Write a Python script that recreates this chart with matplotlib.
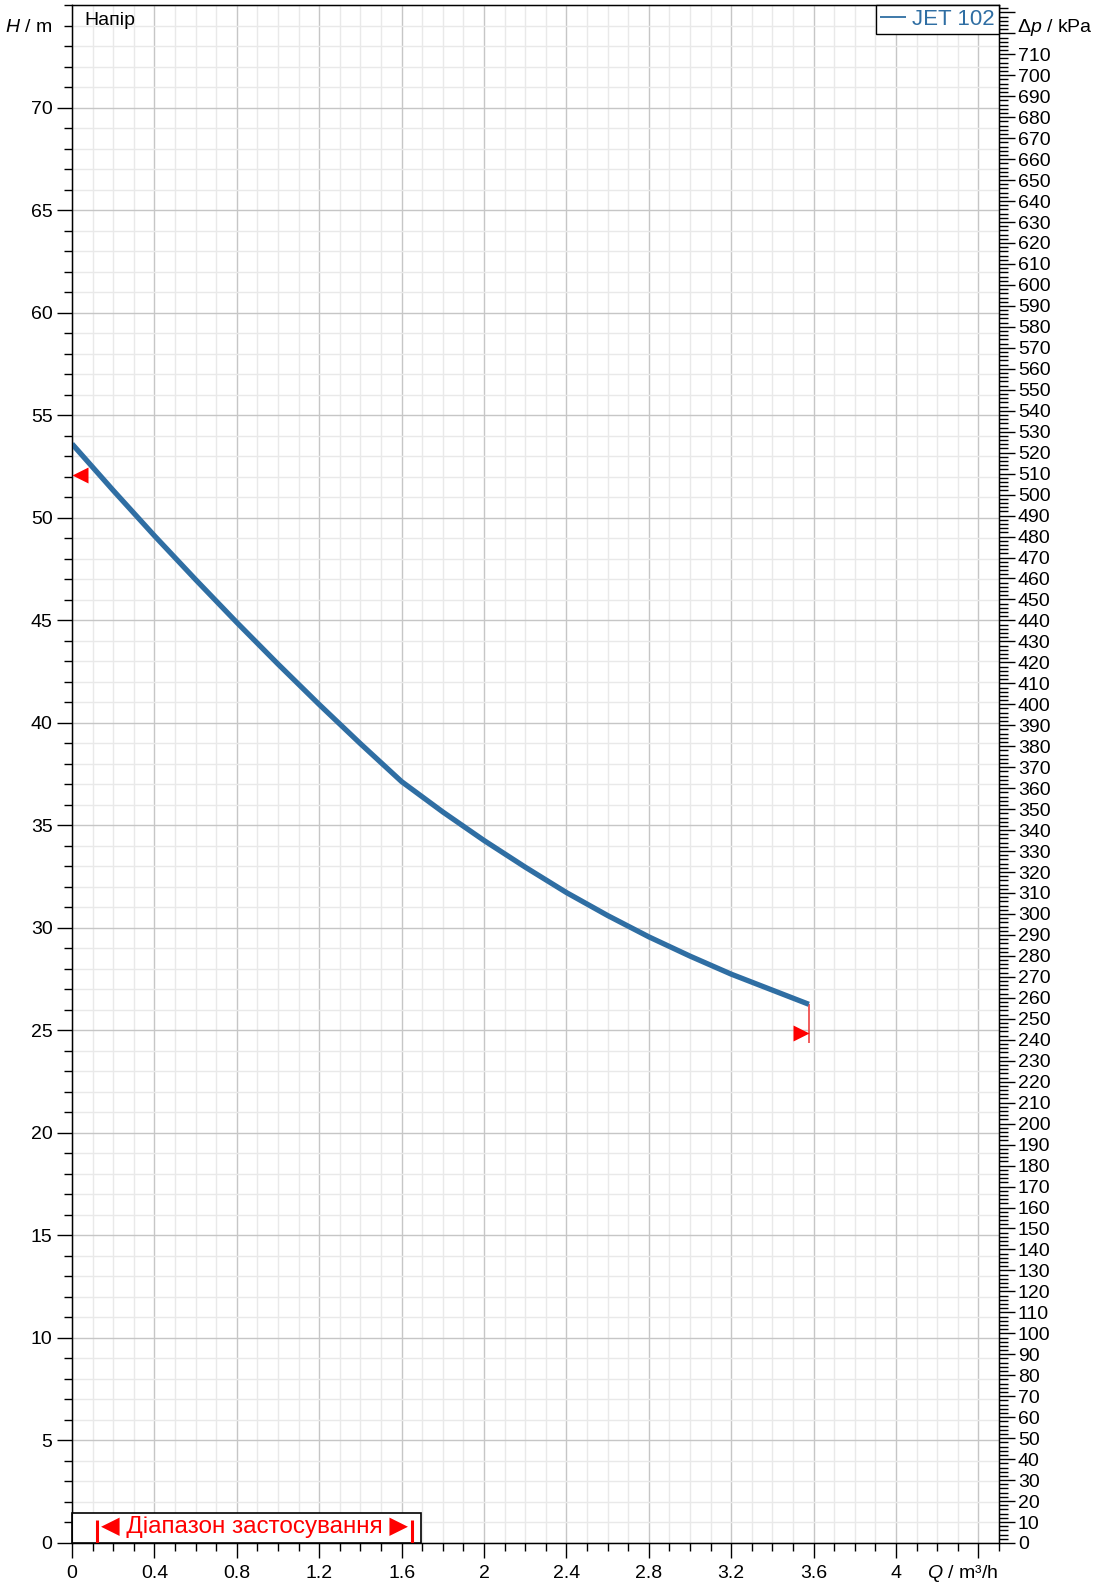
import numpy as np
import matplotlib.pyplot as plt
from matplotlib.ticker import MultipleLocator, FixedLocator
from matplotlib.patches import Rectangle
from matplotlib.transforms import offset_copy

plt.rcParams['font.family'] = ['Liberation Sans', 'DejaVu Sans']
plt.rcParams['mathtext.fontset'] = 'custom'
plt.rcParams['mathtext.rm'] = 'Liberation Sans'
plt.rcParams['mathtext.it'] = 'Liberation Sans:italic'

# pump curve JET 102
Q = [0, 0.2, 0.4, 0.6, 0.8, 1.0, 1.2, 1.4, 1.6, 1.8, 2.0,
     2.2, 2.4, 2.6, 2.8, 3.0, 3.2, 3.4, 3.577]
H = [53.6, 51.33, 49.12, 46.98, 44.89, 42.86, 40.89, 38.98, 37.13, 35.65, 34.26,
     32.96, 31.72, 30.6, 29.56, 28.62, 27.74, 26.96, 26.27]

# red limit markers
Q_left_mark = 0.0
H_left_mark = 52.1
Q_right_mark = 3.577
H_right_mark = 24.87
H_right_line_low = 24.4

# application range
range_lo = 0.12
range_hi = 1.65
range_box_end = 1.695
range_box_top = 1.46

kpa_per_m = 9.78
H_top = 75
Q_top = 4.5

blue = '#2f6ea3'
red = '#ff0000'

fig = plt.figure(figsize=(10.96, 15.89), dpi=100)
ax = fig.add_axes([0.0657, 0.02895, 0.8458, 0.9679])
ax.set_xlim(0, Q_top)
ax.set_ylim(0, H_top)

# grid
ax.xaxis.set_major_locator(FixedLocator(np.arange(0, 4.41, 0.4)))
ax.xaxis.set_minor_locator(MultipleLocator(0.1))
ax.yaxis.set_major_locator(FixedLocator(np.arange(0, 71, 5)))
ax.yaxis.set_minor_locator(MultipleLocator(1))
ax.set_axisbelow(True)
ax.grid(which='major', color='#c6c6c6', lw=1.0)
ax.grid(which='minor', color='#e9e9e9', lw=1.0)

xt = np.arange(0, 4.41, 0.4)
ax.set_xticklabels(["%g" % v if v < 4.1 else "" for v in np.round(xt, 1)])
ax.tick_params(axis='both', which='major', labelsize=14, length=11, width=1, direction='out')
ax.tick_params(axis='both', which='minor', length=6, width=1, direction='out')
ax.tick_params(axis='x', pad=5)
ax.tick_params(axis='y', pad=3)

# curve
line, = ax.plot(Q, H, color=blue, lw=3.8, solid_capstyle='butt', solid_joinstyle='round',
                label='JET 102', zorder=4)

# limit markers
ms = 11.5
tr_l = offset_copy(ax.transData, fig=fig, x=ms / 2, y=0, units='points')
ax.plot([Q_left_mark], [H_left_mark], marker='<', ms=ms, color=red, mec='none',
        transform=tr_l, zorder=5, clip_on=False)
tr_r = offset_copy(ax.transData, fig=fig, x=-ms / 2, y=0, units='points')
ax.plot([Q_right_mark], [H_right_mark], marker='>', ms=ms, color=red, mec='none',
        transform=tr_r, zorder=5)
ax.vlines(Q_right_mark, H_right_line_low, H[-1], color='#f05050', lw=1.3, zorder=3)

# application range box
ax.add_patch(Rectangle((0, 0), range_box_end, range_box_top, facecolor='white',
                       edgecolor='black', lw=1.2, zorder=6, clip_on=False))
ax.vlines([range_lo, range_hi], 0, 1.1, color=red, lw=2.2, zorder=7)
ax.text((range_lo + range_hi) / 2, 0.78, "◀ Діапазон застосування ▶", color=red,
        fontsize=17.5, ha='center', va='center', zorder=8)

# labels
ax.text(0.013, 0.9955, "Напір", transform=ax.transAxes, fontsize=14,
        ha='left', va='top')
fig.text(5 / 1096, 1 - 27 / 1589, "$H$ / m", fontsize=14, ha='left', va='center')
fig.text(998 / 1096, 1 - 1573 / 1589, "$Q$ / m³/h", fontsize=14, ha='right', va='center')
fig.text(1017 / 1096, 1 - 27 / 1589, "Δ$p$ / kPa", fontsize=14, ha='left', va='center')

# legend
leg = ax.legend(loc='upper right', borderaxespad=0, handlelength=1.15, handletextpad=0.3,
                fancybox=False, edgecolor='black', framealpha=1, fontsize=16,
                labelcolor=blue, borderpad=0.18)
leg.get_frame().set_linewidth(1.0)
for h in leg.legend_handles:
    h.set_linewidth(1.3)

for s in ax.spines.values():
    s.set_linewidth(1.0)

# right axis in kPa
ax2 = ax.twinx()
ax2.set_ylim(0, H_top * kpa_per_m)
kpa = np.arange(0, 731, 10)
ax2.yaxis.set_major_locator(FixedLocator(kpa))
ax2.set_yticklabels([str(v) if v <= 710 else "" for v in kpa])
ax2.yaxis.set_minor_locator(MultipleLocator(2))
ax2.tick_params(axis='y', which='major', labelsize=14, length=11.5, width=1, pad=2)
ax2.tick_params(axis='y', which='minor', length=6.5, width=1)

fig.savefig("out.png", dpi=100)
